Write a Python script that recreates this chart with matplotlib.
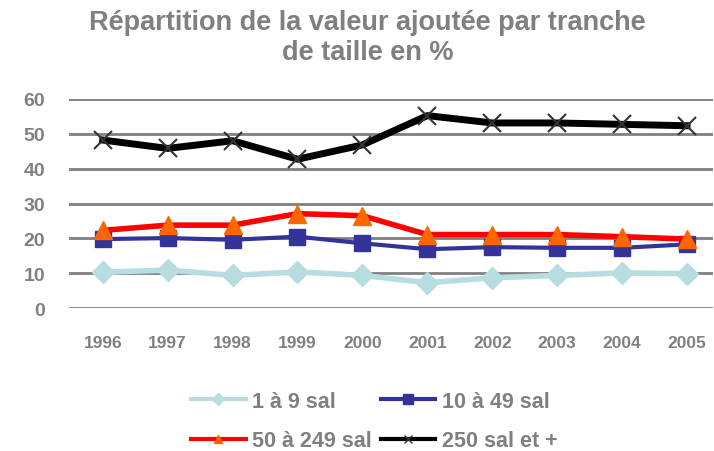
import matplotlib.pyplot as plt
from matplotlib.lines import Line2D

plt.rcParams['font.family'] = ['Liberation Sans', 'DejaVu Sans']
plt.rcParams['font.weight'] = 'bold'

years = ['1996', '1997', '1998', '1999', '2000', '2001', '2002', '2003', '2004', '2005']
s1_9 = [10.3, 10.9, 9.4, 10.4, 9.4, 7.3, 8.7, 9.4, 10.1, 9.9]
s10_49 = [19.8, 20.1, 19.6, 20.5, 18.6, 16.9, 17.5, 17.3, 17.3, 18.3]
s50_249 = [22.3, 23.8, 23.8, 27.1, 26.5, 21.1, 21.1, 21.1, 20.5, 19.8]
s250 = [48.2, 45.8, 48.0, 42.7, 46.8, 55.2, 53.1, 53.1, 52.7, 52.3]
labels = ['1 à 9 sal', '10 à 49 sal', '50 à 249 sal', '250 sal et +']

grey = '#808080'
fig = plt.figure(figsize=(7.14, 4.52), dpi=100)
ax = fig.add_axes([0.0966, 0.316, 0.902, 0.463])
x = list(range(len(years)))

for v in range(0, 70, 10):
    ax.axhline(v, color=grey, lw=2, zorder=1)

ax.plot(x, s1_9, color='#B7DDE0', lw=4, marker='D', ms=11, mec='#B7DDE0', zorder=3)
ax.plot(x, s10_49, color='#333399', lw=3, marker='s', ms=12, mec='#333399', zorder=3)
ax.plot(x, s50_249, color='#FF0000', lw=4, marker='^', ms=13, mfc='#FF6600', mec='#FF6600', zorder=4)
ax.plot(x, s250, color='#000000', lw=5, marker='x', ms=13, mew=1.5, mec='#333333', zorder=3)

ax.set_xlim(-0.52, 9.4)
ax.set_ylim(0, 60)
ax.set_yticks(range(0, 70, 10))
ax.set_xticks(x)
ax.set_xticklabels(years)
for s in ax.spines.values():
    s.set_visible(False)
ax.tick_params(axis='x', length=0, labelsize=12.5, colors=grey, pad=19)
ax.tick_params(axis='y', length=0, labelsize=14, colors=grey, pad=17)
for lab in ax.get_xticklabels() + ax.get_yticklabels():
    lab.set_fontweight('bold')

fig.text(0.515, 0.915, 'Répartition de la valeur ajoutée par tranche\nde taille en %',
         ha='center', va='center', fontsize=19.5, color=grey, fontweight='bold', linespacing=1.2)

h1 = Line2D([], [], color='#B7DDE0', lw=3, marker='D', ms=6, mec='#B7DDE0')
h2 = Line2D([], [], color='#333399', lw=3, marker='s', ms=7, mec='#333399')
h3 = Line2D([], [], color='#FF0000', lw=3, marker='^', ms=6, mfc='#FF6600', mec='#FF6600')
h4 = Line2D([], [], color='#000000', lw=3, marker='x', ms=6, mec='#333333')
# legend fills column-wise, so reorder to get row-wise reading
leg = fig.legend([h1, h3, h2, h4], [labels[0], labels[2], labels[1], labels[3]],
                 ncol=2, loc='center', bbox_to_anchor=(0.524, 0.066),
                 frameon=False, prop={'size': 15.5, 'weight': 'bold'}, handlelength=2.55,
                 columnspacing=0.4, labelspacing=0.86, handletextpad=0.3)
for t in leg.get_texts():
    t.set_color(grey)

fig.savefig('out.png', dpi=100)
